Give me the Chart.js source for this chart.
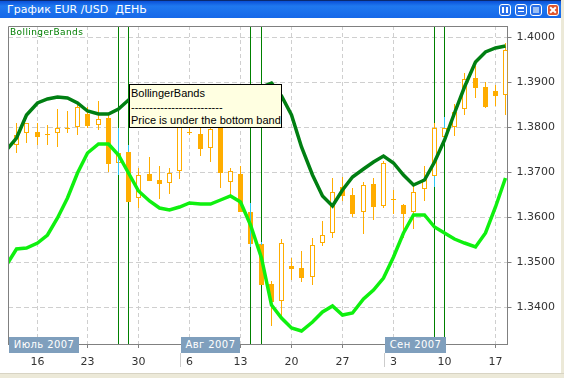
<!DOCTYPE html>
<html>
<head>
<meta charset="utf-8">
<title>EUR/USD</title>
<script src="https://cdn.jsdelivr.net/npm/chart.js@4/dist/chart.umd.min.js"></script>
<style>
  html, body { margin: 0; padding: 0; background: #fff; }
  #win { position: relative; width: 564px; height: 378px; overflow: hidden; background: #fff; }
  #chart { position: absolute; left: 0; top: 0; }
  #titlebar {
    position: absolute; left: 0; top: 0; width: 561px; height: 18px;
    background: linear-gradient(#0a50d8 0, #1f78f0 30%, #1668e8 100%);
    border-top: 1px solid #0a2a70; box-sizing: border-box;
  }
  #title {
    position: absolute; left: 7px; top: 2px; color: #fff; white-space: pre;
    font: 11px "DejaVu Sans", sans-serif; letter-spacing: 0.05px;
  }
  .btn {
    position: absolute; top: 3px; width: 12px; height: 12px; box-sizing: border-box;
    border: 1px solid #fff; border-radius: 3px; background: #2a70e8;
  }
  .btn i { position: absolute; background: #fff; }
  #right { position: absolute; left: 561px; top: 0; width: 3px; height: 378px; background: #ece9d8; }
  #bottom { position: absolute; left: 0; top: 373px; width: 564px; height: 5px; background: #ece9d8; border-top: 1px solid #d8d4c4; box-sizing: border-box; }
  #legend {
    position: absolute; left: 10px; top: 27px; color: #007f00; white-space: pre;
    font: 9px "DejaVu Sans", sans-serif; letter-spacing: 0.4px;
  }
  .month {
    position: absolute; top: 337px; height: 16px; background: #7f9fbd;
    color: #fff; text-align: center; letter-spacing: 0.4px;
    font: 10px/16px "DejaVu Sans", sans-serif;
  }
  .sep { position: absolute; top: 353px; width: 1px; height: 14px; background: #ccc; }
  #tip {
    position: absolute; left: 129px; top: 84px; width: 153px; height: 44px; box-sizing: border-box;
    background: #ffffe1; border: 1px solid #000; color: #000; white-space: pre;
    font: 11px/13.5px "Liberation Sans", sans-serif; padding: 2px 0 0 1px;
  }
</style>
</head>
<body>
<div id="win">
  <canvas id="chart" width="564" height="378"></canvas>
  <div id="titlebar">
    <div id="title">График EUR /USD  ДЕНЬ</div>
    <div class="btn" style="left:499px"><i style="left:2px;top:2px;width:2px;height:6px"></i><i style="left:6px;top:2px;width:2px;height:6px"></i></div>
    <div class="btn" style="left:515px"><i style="left:2px;top:2px;width:6px;height:2px"></i><i style="left:2px;top:6px;width:6px;height:1px"></i></div>
    <div class="btn" style="left:530px"><i style="left:2px;top:2px;width:6px;height:6px;background:#9cc0f4"></i></div>
    <div class="btn" style="left:547px;background:#e0552c">
      <i style="left:1px;top:4px;width:8px;height:2px;transform:rotate(45deg)"></i>
      <i style="left:1px;top:4px;width:8px;height:2px;transform:rotate(-45deg)"></i>
    </div>
  </div>
  <div id="right"></div>
  <div id="bottom"></div>
  <div id="legend">BollingerBands</div>
  <div class="month" style="left:9px;width:70px">Июль 2007</div>
  <div class="month" style="left:181px;width:59px">Авг 2007</div>
  <div class="month" style="left:385px;width:61px">Сен 2007</div>
  <div class="sep" style="left:180px"></div>
  <div class="sep" style="left:384px"></div>
  <div id="tip">BollingerBands
-------------------------
Price is under the bottom band</div>
</div>

<script>
// trading day number, 0 is 16 Jul 2007
const days = [-3, -2, -1, 0, 1, 2, 3, 4, 5, 6, 7, 8, 9, 10, 11, 12, 13, 14, 15, 16, 17, 18, 19, 20, 21, 22, 23, 24,
  25, 26, 27, 28, 29, 30, 31, 32, 33, 34, 35, 36, 37, 38, 39, 40, 41, 42, 43, 44, 45, 46];

const opens = [1.37489, 1.37600, 1.37867, 1.37889, 1.37844, 1.37867, 1.37978, 1.38, 1.38289, 1.38044, 1.382, 1.372,
  1.37444, 1.36422, 1.36956, 1.36822, 1.36756, 1.37022, 1.37889, 1.37844, 1.37533, 1.37978, 1.36778, 1.36956,
  1.36111, 1.354, 1.34511, 1.34133, 1.34911, 1.34867, 1.34667, 1.35422, 1.35644, 1.36667, 1.36489, 1.36111,
  1.36733, 1.36244, 1.36378, 1.36267, 1.36111, 1.36622, 1.36911, 1.37778, 1.38, 1.384, 1.39089, 1.38889, 1.388, 1.38711];
const closes = [1.37311, 1.37822, 1.38089, 1.37778, 1.37822, 1.37978, 1.37956, 1.38444, 1.38022, 1.38178, 1.37178, 1.37422,
  1.36333, 1.36933, 1.368, 1.36733, 1.36978, 1.38044, 1.37867, 1.37511, 1.37956, 1.36978, 1.37022, 1.36111,
  1.354, 1.34489, 1.34111, 1.35422, 1.34844, 1.34644, 1.35378, 1.356, 1.36556, 1.36467, 1.36067, 1.36711,
  1.36222, 1.37200, 1.364, 1.36067, 1.36556, 1.36844, 1.37978, 1.37978, 1.38333, 1.39067, 1.38867, 1.38444, 1.38689, 1.39711];
const highs = [1.37489, 1.38089, 1.38089, 1.38089, 1.38044, 1.384, 1.38356, 1.38556, 1.38444, 1.38578, 1.38311, 1.37978,
  1.376, 1.37089, 1.37333, 1.37133, 1.37089, 1.38156, 1.38044, 1.37978, 1.38022, 1.38156, 1.37089, 1.37133,
  1.36311, 1.35444, 1.34578, 1.35511, 1.35089, 1.35244, 1.35533, 1.35911, 1.36867, 1.36889, 1.36644, 1.36778,
  1.36867, 1.37244, 1.366, 1.36289, 1.36711, 1.37133, 1.38089, 1.382, 1.38511, 1.392, 1.39356, 1.39, 1.38933, 1.39867];
const lows = [1.37311, 1.37422, 1.37644, 1.376, 1.376, 1.37556, 1.37867, 1.37822, 1.37978, 1.37933, 1.37, 1.36933,
  1.36333, 1.362, 1.368, 1.364, 1.36511, 1.36844, 1.37822, 1.37356, 1.37222, 1.36644, 1.36489, 1.36111,
  1.35333, 1.34489, 1.33578, 1.33778, 1.346, 1.34556, 1.34489, 1.35356, 1.35533, 1.36356, 1.36, 1.35622,
  1.35933, 1.362, 1.36067, 1.35533, 1.35733, 1.36356, 1.36667, 1.37644, 1.378, 1.38267, 1.38644, 1.38422, 1.38467, 1.38267];

const upperBand = [1.37489, 1.37756, 1.38267, 1.38533, 1.38622, 1.38667, 1.38644, 1.38533, 1.38356, 1.38289, 1.38289, 1.384,
  1.386, 1.38778, 1.38778, 1.38756, 1.38756, 1.38756, 1.38778, 1.38778, 1.388, 1.38822, 1.38822, 1.38822,
  1.38844, 1.38889, 1.38978, 1.38689, 1.38267, 1.37556, 1.36933, 1.36467, 1.36244, 1.366, 1.36889, 1.37067,
  1.37222, 1.37356, 1.372, 1.36933, 1.36711, 1.36822, 1.37222, 1.37711, 1.38311, 1.38889, 1.39444, 1.39667, 1.39756, 1.398];
const lowerBand = [1.34933, 1.35289, 1.35311, 1.35422, 1.356, 1.35978, 1.36422, 1.36978, 1.37422, 1.37622, 1.37622, 1.37378,
  1.36978, 1.36578, 1.36356, 1.362, 1.36156, 1.36222, 1.36311, 1.36289, 1.36289, 1.36378, 1.36467, 1.36333,
  1.35822, 1.35089, 1.34044, 1.33756, 1.33533, 1.33467, 1.33667, 1.33889, 1.34022, 1.33822, 1.33867, 1.34178,
  1.34378, 1.34644, 1.35111, 1.35644, 1.36044, 1.36044, 1.35778, 1.35644, 1.35511, 1.35422, 1.35333, 1.35644, 1.36222, 1.36867];

// bars where the indicator fired
const signalDays = [8, 9, 21, 22, 39, 40];
const signalTop = [1.37978, 1.376, 1.36311, 1.35444, 1.36911, 1.38222];
const signalBottom = [1.36933, 1.37444, 1.35333, 1.35378, 1.36667, 1.37978];

const priceTicks = [1.34, 1.35, 1.36, 1.37, 1.38, 1.39, 1.40];
const dayTicks = [0, 5, 10, 15, 20, 25, 30, 35, 40, 45];
const dayLabels = ["16", "23", "30", "6", "13", "20", "27", "3", "10", "17"];

const ORANGE = "#ffad00";
const DARK_GREEN = "#007f12";
const LIME = "#0ff00f";
const SIGNAL = "#008000";
const AXIS = "#808080";
const GRID = "#cfcfcf";

const plotTop = 26, plotBottom = 344, plotLeft = 8, plotRight = 507.5;

// snap marks to whole pixels like the terminal does
const pixelSnap = {
  id: "pixelSnap",
  afterLayout(chart) {
    const x = chart.scales.x, y = chart.scales.y;
    const xp = x.getPixelForValue.bind(x), yp = y.getPixelForValue.bind(y);
    x.getPixelForValue = (v, i) => Math.round(xp(v, i) - 0.5) + 0.5;
    y.getPixelForValue = (v, i) => Math.round(yp(v, i));
  },
};

// top and left edges of the plot box
const frame = {
  id: "frame",
  afterDraw(chart) {
    const { ctx, chartArea: a } = chart;
    ctx.save();
    ctx.strokeStyle = AXIS;
    ctx.lineWidth = 1;
    ctx.beginPath();
    ctx.moveTo(a.left + 0.5, a.bottom);
    ctx.lineTo(a.left + 0.5, a.top + 0.5);
    ctx.lineTo(a.right, a.top + 0.5);
    ctx.stroke();
    ctx.restore();
  },
};

const isUp = days.map((d, i) => closes[i] >= opens[i]);

new Chart(document.getElementById("chart").getContext("2d"), {
  type: "bar",
  plugins: [pixelSnap, frame],
  data: {
    datasets: [
      {
        label: "signal",
        data: signalDays.map((d) => ({ x: d, y: [1.33, 1.41] })),
        backgroundColor: SIGNAL,
        barThickness: 1,
        order: 6,
      },
      {
        label: "wick",
        data: days.map((d, i) => ({ x: d, y: [lows[i], highs[i]] })),
        backgroundColor: ORANGE,
        barThickness: 1,
        order: 5,
      },
      {
        label: "body",
        data: days.map((d, i) => ({ x: d, y: [opens[i], closes[i]] })),
        backgroundColor: isUp.map((up) => (up ? "#ffffff" : ORANGE)),
        borderColor: ORANGE,
        borderWidth: 1,
        borderSkipped: false,
        barThickness: 5,
        order: 4,
      },
      {
        label: "signal wick",
        data: signalDays.map((d, i) => ({ x: d, y: [signalBottom[i], signalTop[i]] })),
        backgroundColor: "#2cc8f4",
        barThickness: 1,
        order: 3,
      },
      {
        type: "line",
        label: "upper",
        data: days.map((d, i) => ({ x: d, y: upperBand[i] })),
        borderColor: DARK_GREEN,
        borderWidth: 3.5,
        pointRadius: 0,
        tension: 0,
        order: 2,
      },
      {
        type: "line",
        label: "lower",
        data: days.map((d, i) => ({ x: d, y: lowerBand[i] })),
        borderColor: LIME,
        borderWidth: 3.5,
        pointRadius: 0,
        tension: 0,
        order: 1,
      },
    ],
  },
  options: {
    responsive: false,
    animation: false,
    events: [],
    layout: { padding: { left: plotLeft, top: plotTop, right: 0, bottom: 0 } },
    datasets: { bar: { grouped: false, inflateAmount: 0 } },
    plugins: { legend: { display: false }, tooltip: { enabled: false } },
    scales: {
      x: {
        type: "linear",
        offset: false,
        min: -2.847,
        max: 46.18,
        afterBuildTicks: (axis) => { axis.ticks = dayTicks.map((d) => ({ value: d })); },
        afterFit: (axis) => { axis.height = 378 - plotBottom; },
        grid: { offset: false, color: GRID, tickColor: AXIS, tickLength: 4 },
        border: { color: AXIS, dash: [4, 3] },
        ticks: {
          autoSkip: false,
          maxRotation: 0,
          padding: 8,
          color: "#333",
          font: { family: "DejaVu Sans", size: 11 },
          callback: (v, i) => dayLabels[i],
        },
      },
      y: {
        position: "right",
        min: 1.33178,
        max: 1.40244,
        afterBuildTicks: (axis) => { axis.ticks = priceTicks.map((p) => ({ value: p })); },
        afterFit: (axis) => { axis.width = 564 - plotRight; },
        grid: { color: GRID, tickColor: AXIS, tickLength: 4 },
        border: { color: AXIS, dash: [5, 3] },
        ticks: {
          padding: 5,
          color: "#333",
          font: { family: "DejaVu Sans", size: 11 },
          callback: (v) => v.toFixed(4),
        },
      },
    },
  },
});
</script>
</body>
</html>
